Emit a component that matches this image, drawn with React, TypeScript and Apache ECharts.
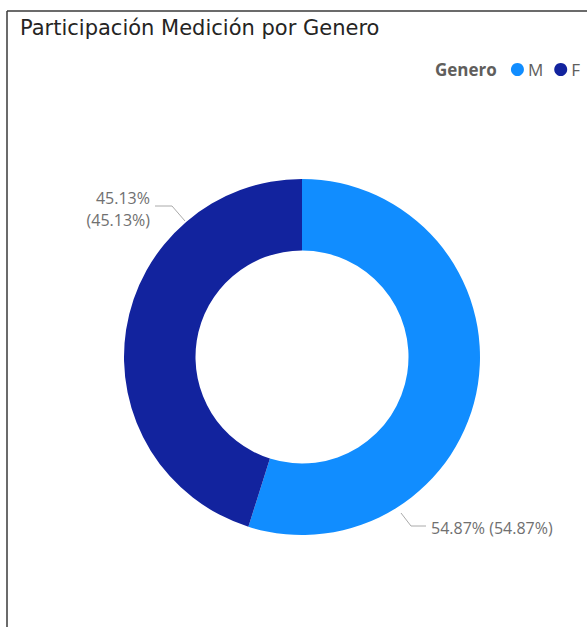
import React, { useEffect, useRef } from "react";
import * as echarts from "echarts";

const categories = ["M", "F"];
const values = [54.87, 45.13];
const colors = ["#118DFF", "#12239E"];
const titleText = "Participación Medición por Genero";
const legendTitle = "Genero";

export default function App() {
  const ref = useRef<HTMLDivElement>(null);
  useEffect(() => {
    const chart = echarts.init(ref.current!, null, { renderer: "svg" });
    const fmt = (v: number) => v.toFixed(2) + "%";
    chart.setOption({
      animation: false,
      title: {
        text: titleText,
        left: 15,
        top: 12,
        textStyle: {
          fontFamily: "'DejaVu Sans', sans-serif",
          fontSize: 21,
          fontWeight: "normal",
          color: "#252423",
        },
      },
      graphic: [
        { type: "line", shape: { x1: 7, y1: 11, x2: 587, y2: 11 }, style: { stroke: "#3a3a3a", lineWidth: 1.5 } },
        { type: "line", shape: { x1: 7, y1: 11, x2: 7, y2: 627 }, style: { stroke: "#3a3a3a", lineWidth: 1.5 } },
        {
          type: "text",
          left: 435,
          top: 61,
          style: {
            text: legendTitle,
            font: "bold 17px 'Open Sans', sans-serif",
            fill: "#605E5C",
          },
        },
      ],
      legend: {
        right: 2,
        top: 56,
        icon: "circle",
        itemWidth: 13,
        itemHeight: 13,
        itemGap: 11,
        data: categories,
        textStyle: { fontFamily: "'Open Sans', sans-serif", fontSize: 17, color: "#605E5C", padding: [0, 0, 0, -1] },
      },
      series: [
        {
          type: "pie",
          center: [302, 357],
          radius: [106.5, 178],
          startAngle: 90,
          clockwise: true,
          data: categories.map((c, i) => ({ name: c, value: values[i], itemStyle: { color: colors[i] } })),
          label: {
            show: true,
            position: "outside",
            overflow: "none",
            fontFamily: "'Open Sans', sans-serif",
            fontSize: 16,
            lineHeight: 22,
            color: "#707070",
            formatter: (p: any) =>
              p.dataIndex === 0 ? `${fmt(p.value)} (${fmt(p.value)})` : `${fmt(p.value)}\n(${fmt(p.value)})`,
          },
          labelLine: { show: true, lineStyle: { color: "#aaaaaa", width: 1 } },
          labelLayout: (params: any) => {
            if (params.dataIndex === 0) {
              return {
                x: 431,
                y: 528,
                align: "left",
                verticalAlign: "middle",
                labelLinePoints: [
                  [401, 513],
                  [411, 526],
                  [426, 526],
                ],
              };
            }
            return {
              x: 150,
              y: 209,
              align: "right",
              verticalAlign: "middle",
              labelLinePoints: [
                [185, 221],
                [172, 206],
                [155, 206],
              ],
            };
          },
        },
      ],
    });
    return () => chart.dispose();
  }, []);
  return (
    <div style={{ position: "fixed", left: 0, top: 0, width: 587, height: 627, background: "#fff" }}>
      <div ref={ref} style={{ width: 587, height: 627 }} />
    </div>
  );
}
